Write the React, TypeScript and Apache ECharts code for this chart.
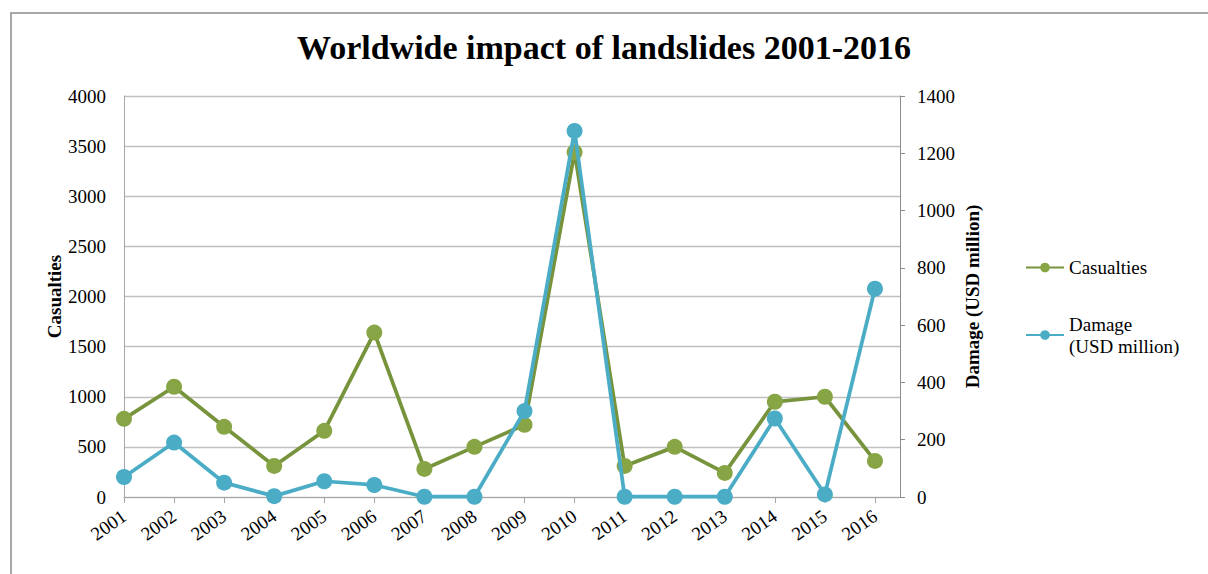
import React, { useEffect, useRef } from "react";
import * as echarts from "echarts";

// Yearly landslide figures
const years = [2001, 2002, 2003, 2004, 2005, 2006, 2007, 2008, 2009, 2010, 2011, 2012, 2013, 2014, 2015, 2016];
const casualties = [780, 1100, 700, 310, 660, 1640, 280, 500, 720, 3440, 310, 500, 240, 950, 1000, 360];
const damage = [70, 190, 50, 3, 55, 42, 1, 1, 300, 1278, 1, 1, 1, 274, 9, 727];

const casualtyTicks = [0, 500, 1000, 1500, 2000, 2500, 3000, 3500, 4000];
const damageTicks = [0, 200, 400, 600, 800, 1000, 1200, 1400];

const GREEN_LINE = "#77933C";
const GREEN_DOT = "#88A546";
const BLUE = "#4BACC6";
const FONT = "'Liberation Serif', 'Times New Roman', serif";

export default function App() {
  const ref = useRef<HTMLDivElement>(null);

  useEffect(() => {
    if (!ref.current) return;
    const chart = echarts.init(ref.current, null, { renderer: "svg" });
    chart.setOption({
      animation: false,
      backgroundColor: "#ffffff",
      textStyle: { fontFamily: FONT, color: "#000" },
      title: {
        text: "Worldwide impact of landslides 2001-2016",
        left: "center",
        top: 25,
        textStyle: { fontFamily: FONT, fontSize: 34, fontWeight: "bold", color: "#000" },
      },
      graphic: [
        {
          type: "rect",
          shape: { x: 11, y: 13, width: 1220, height: 600 },
          style: { fill: "none", stroke: "#8c8c8c", lineWidth: 1.5 },
          silent: true,
        },
      ],
      legend: [
        {
          data: [{ name: "Casualties" }],
          left: 1020,
          top: 253,
          itemWidth: 38,
          itemHeight: 12,
          textStyle: { fontFamily: FONT, fontSize: 19, color: "#000" },
        },
        {
          data: [
            {
              name: "Damage (USD million)",
              textStyle: { padding: [22, 0, 0, 0], lineHeight: 22 },
            },
          ],
          formatter: () => "Damage\n(USD million)",
          left: 1020,
          top: 297,
          itemWidth: 38,
          itemHeight: 12,
          textStyle: { fontFamily: FONT, fontSize: 19, color: "#000", lineHeight: 22 },
        },
      ],
      grid: { left: 124, right: 308, top: 96, bottom: 77 },
      xAxis: {
        type: "value",
        min: years[0],
        max: years[years.length - 1] + 0.5,
        interval: 1,
        splitLine: { show: false },
        axisLine: { show: true, lineStyle: { color: "#a6a6a6", width: 1 } },
        axisTick: { show: true, length: 6, customValues: years, lineStyle: { color: "#a6a6a6" } },
        axisLabel: {
          customValues: years,
          rotate: 35,
          margin: 17,
          fontFamily: FONT,
          fontSize: 19,
          color: "#000",
          formatter: (v: number) => String(v),
        },
      },
      yAxis: [
        {
          type: "value",
          min: casualtyTicks[0],
          max: casualtyTicks[casualtyTicks.length - 1],
          interval: casualtyTicks[1] - casualtyTicks[0],
          name: "Casualties",
          nameLocation: "middle",
          nameRotate: 90,
          nameGap: 60,
          nameMoveOverlap: false,
          nameTextStyle: { fontFamily: FONT, fontSize: 19, fontWeight: "bold", color: "#000" },
          axisLine: { show: true, lineStyle: { color: "#a6a6a6", width: 1 } },
          axisTick: { show: false },
          axisLabel: {
            margin: 18,
            fontFamily: FONT,
            fontSize: 19,
            color: "#000",
            formatter: (v: number) => String(v),
          },
          splitLine: { show: true, lineStyle: { color: "#c0c0c0", width: 1.3 } },
        },
        {
          type: "value",
          position: "right",
          min: damageTicks[0],
          max: damageTicks[damageTicks.length - 1],
          interval: damageTicks[1] - damageTicks[0],
          name: "Damage (USD million)",
          nameLocation: "middle",
          nameRotate: 90,
          nameGap: 63,
          nameMoveOverlap: false,
          nameTextStyle: { fontFamily: FONT, fontSize: 19, fontWeight: "bold", color: "#000" },
          axisLine: { show: true, lineStyle: { color: "#8c8c8c", width: 1 } },
          axisTick: { show: true, length: 5, lineStyle: { color: "#8c8c8c" } },
          axisLabel: {
            margin: 17,
            fontFamily: FONT,
            fontSize: 19,
            color: "#000",
            formatter: (v: number) => String(v),
          },
          splitLine: { show: false },
        },
      ],
      series: [
        {
          name: "Casualties",
          type: "line",
          yAxisIndex: 0,
          data: years.map((y, i) => [y, casualties[i]]),
          symbol: "circle",
          symbolSize: 16,
          lineStyle: { color: GREEN_LINE, width: 3.75 },
          itemStyle: { color: GREEN_DOT },
          z: 2,
        },
        {
          name: "Damage (USD million)",
          type: "line",
          yAxisIndex: 1,
          data: years.map((y, i) => [y, damage[i]]),
          symbol: "circle",
          symbolSize: 16,
          lineStyle: { color: BLUE, width: 3.75 },
          itemStyle: { color: BLUE },
          z: 3,
        },
      ],
    });
    return () => chart.dispose();
  }, []);

  return (
    <div
      ref={ref}
      style={{ position: "absolute", left: 0, top: 0, width: 1208, height: 574 }}
    />
  );
}
